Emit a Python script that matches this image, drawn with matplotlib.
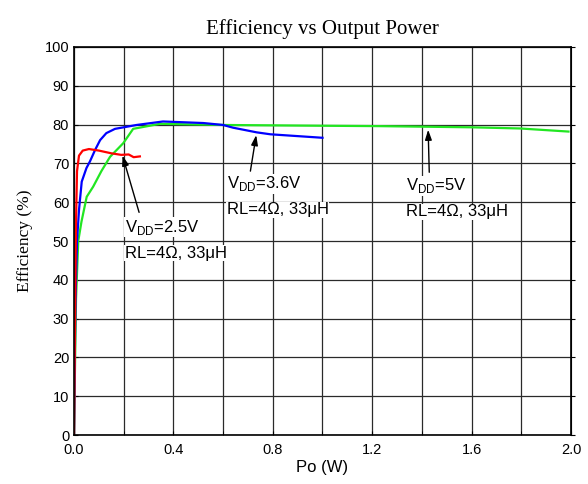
import matplotlib
matplotlib.use('Agg')
import matplotlib.pyplot as plt
import numpy as np

# data
po_25 = [0, 0.004, 0.008, 0.012, 0.02, 0.035, 0.06, 0.1, 0.15, 0.19, 0.22, 0.24, 0.265]
eff_25 = [0, 30, 55, 68, 72, 73.3, 73.7, 73.3, 72.6, 72.2, 72.3, 71.6, 71.8]

po_36 = [0, 0.003, 0.006, 0.012, 0.02, 0.031, 0.05, 0.064, 0.085, 0.105, 0.13, 0.165,
         0.252, 0.358, 0.52, 0.6, 0.64, 0.735, 0.79, 1.0]
eff_36 = [0, 20, 35, 50, 58, 65.3, 68.8, 70.5, 73.5, 76, 77.8, 78.9,
          79.9, 80.8, 80.4, 79.9, 79.2, 78, 77.5, 76.6]

po_5 = [0, 0.004, 0.008, 0.017, 0.03, 0.051, 0.077, 0.11, 0.145, 0.198, 0.238, 0.346,
        0.6, 1.0, 1.23, 1.6, 1.795, 1.99]
eff_5 = [0, 18, 35, 50, 55, 61.4, 64, 68, 71.7, 75.2, 78.9, 80.2,
         79.9, 79.7, 79.6, 79.3, 79.0, 78.2]

labels = [r'V$_{\rm DD}$=2.5V', r'V$_{\rm DD}$=3.6V', r'V$_{\rm DD}$=5V']
sub = 'RL=4\u03a9, 33\u03bcH'
# arrow head, arrow tail, text position
notes = [((0.192, 72.7), (0.265, 56.7), (0.205, 53.6)),
         ((0.735, 78.0), (0.708, 67.3), (0.614, 64.7)),
         ((1.425, 79.4), (1.43, 67.0), (1.338, 64.2))]

plt.rcParams['font.family'] = ['Liberation Sans', 'DejaVu Sans']
plt.rcParams['mathtext.fontset'] = 'custom'
plt.rcParams['mathtext.rm'] = 'Liberation Sans'

fig = plt.figure(figsize=(5.88, 4.84), dpi=100)
ax = fig.add_axes([0.1259, 0.101, 0.971 - 0.1259, 0.903 - 0.101])

ax.plot(po_5, eff_5, color='#22e622', linewidth=1.6)
ax.plot(po_36, eff_36, color='#0000ff', linewidth=1.6)
ax.plot(po_25, eff_25, color='#ff0000', linewidth=1.6)

ax.set_xlim(0, 2.0)
ax.set_ylim(0, 100)
ax.set_xticks(np.arange(0, 2.01, 0.4))
ax.set_xticks(np.arange(0.2, 2.0, 0.4), minor=True)
ax.set_yticks(np.arange(0, 101, 10))
ax.set_xticklabels(['%.1f' % v for v in np.arange(0, 2.01, 0.4)])
ax.grid(True, which='both', color='#2a2a2a', linewidth=0.9)
ax.set_axisbelow(True)
ax.tick_params(axis='both', which='both', direction='in', length=3, labelsize=10.5)
ax.tick_params(axis='x', pad=6)
for sp in ax.spines.values():
    sp.set_linewidth(1.2)

sec = ax.secondary_yaxis('right')
sec.set_yticks(np.arange(0, 101, 10))
sec.tick_params(direction='out', length=3, labelright=False)

for (lab, (head, tail, txt)) in zip(labels, notes):
    ax.annotate('', xy=head, xytext=tail,
                arrowprops=dict(arrowstyle='-|>,head_length=0.6,head_width=0.2',
                                color='black', lw=1.0, mutation_scale=10))
    ax.text(txt[0], txt[1], lab, fontsize=12, va='center', ha='left',
            bbox=dict(facecolor='white', edgecolor='none', pad=0.5))
    ax.text(txt[0], txt[1] - 6.7, sub, fontsize=12, va='center', ha='left',
            bbox=dict(facecolor='white', edgecolor='none', pad=0.5))

ax.set_title('Efficiency vs Output Power', family='Liberation Serif', fontsize=15, pad=9)
ax.set_ylabel('Efficiency (%)', family='Liberation Serif', fontsize=12.5, labelpad=8)
ax.set_xlabel('Po (W)', fontsize=12, labelpad=2)

fig.savefig('out.png', dpi=100)
